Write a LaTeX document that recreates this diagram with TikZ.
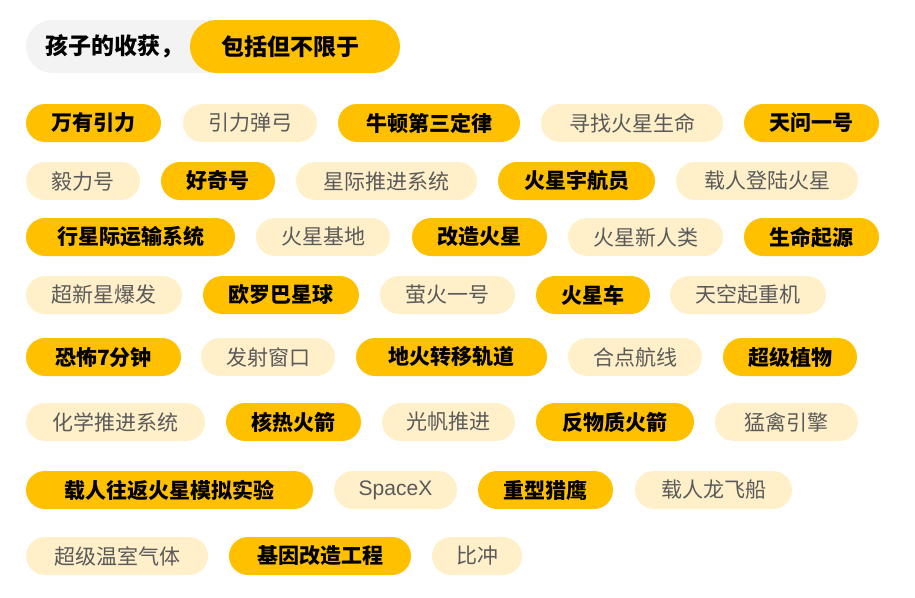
\documentclass[tikz,border=0pt]{standalone}
\usepackage{fontspec}
\setmainfont{Noto Sans CJK SC}
\setsansfont{Liberation Sans}
\definecolor{tagyellow}{HTML}{FFC000}
\definecolor{taglight}{HTML}{FFF0C9}
\definecolor{headgray}{HTML}{F3F3F3}
\definecolor{textgray}{HTML}{5A5A5A}
\tikzset{
  tag/.style={shape=rectangle,rounded corners=19pt,minimum height=38pt,inner sep=0pt,
    font=\fontsize{21}{21}\selectfont},
  darktag/.style={tag,fill=tagyellow,text=black,font=\fontsize{21}{21}\selectfont\bfseries},
  lighttag/.style={tag,fill=taglight,text=textgray},
}
\begin{document}
\begin{tikzpicture}[x=1pt,y=-1pt]
\useasboundingbox (0,0) rectangle (915,597);
% header
\fill[headgray] (26,20) [rounded corners=26.5pt] rectangle (235,73);
\fill[tagyellow] (190,20) [rounded corners=26.5pt] rectangle (400,73);
\node[anchor=west,font=\fontsize{23}{23}\selectfont\bfseries] (head1) at (42,46.5) {孩子的收获，};
\node[anchor=west,font=\fontsize{23}{23}\selectfont\bfseries] (head2) at (218,46.5) {包括但不限于};
% tags: name/x-left/x-right/y/style
\foreach \n/\a/\b/\y/\s/\t in {
  r1a/26/161/123/darktag/万有引力, r1b/183/317/123/lighttag/引力弹弓,
  r1c/338/520/123/darktag/牛顿第三定律, r1d/541/723/123/lighttag/寻找火星生命,
  r1e/744/879/123/darktag/天问一号,
  r2a/26/140/181/lighttag/毅力号, r2b/161/275/181/darktag/好奇号,
  r2c/296/477/181/lighttag/星际推进系统, r2d/498/655/181/darktag/火星宇航员,
  r2e/676/858/181/lighttag/载人登陆火星,
  r3a/26/235/237/darktag/行星际运输系统, r3b/256/390/237/lighttag/火星基地,
  r3c/412/547/237/darktag/改造火星, r3d/568/723/237/lighttag/火星新人类,
  r3e/744/879/237/darktag/生命起源,
  r4a/26/182/295/lighttag/超新星爆发, r4b/203/359/295/darktag/欧罗巴星球,
  r4c/380/515/295/lighttag/萤火一号, r4d/536/650/295/darktag/火星车,
  r4e/670/826/295/lighttag/天空起重机,
  r5a/26/181/357/darktag/恐怖7分钟, r5b/201/335/357/lighttag/发射窗口,
  r5c/356/547/357/darktag/地火转移轨道, r5d/568/702/357/lighttag/合点航线,
  r5e/723/857/357/darktag/超级植物,
  r6a/26/205/422/lighttag/化学推进系统, r6b/226/361/422/darktag/核热火箭,
  r6c/382/515/422/lighttag/光帆推进, r6d/536/694/422/darktag/反物质火箭,
  r6e/715/858/422/lighttag/猛禽引擎,
  r7a/26/313/490/darktag/载人往返火星模拟实验, r7b/334/457/490/lighttag/{\sffamily SpaceX},
  r7c/478/613/490/darktag/重型猎鹰, r7d/635/792/490/lighttag/载人龙飞船,
  r8a/26/208/556/lighttag/超级温室气体, r8b/229/411/556/darktag/基因改造工程,
  r8c/432/522/556/lighttag/比冲}
  \node[\s,minimum width=\b-\a] (\n) at ({(\a+\b)/2},\y) {\t};
\end{tikzpicture}
\end{document}
